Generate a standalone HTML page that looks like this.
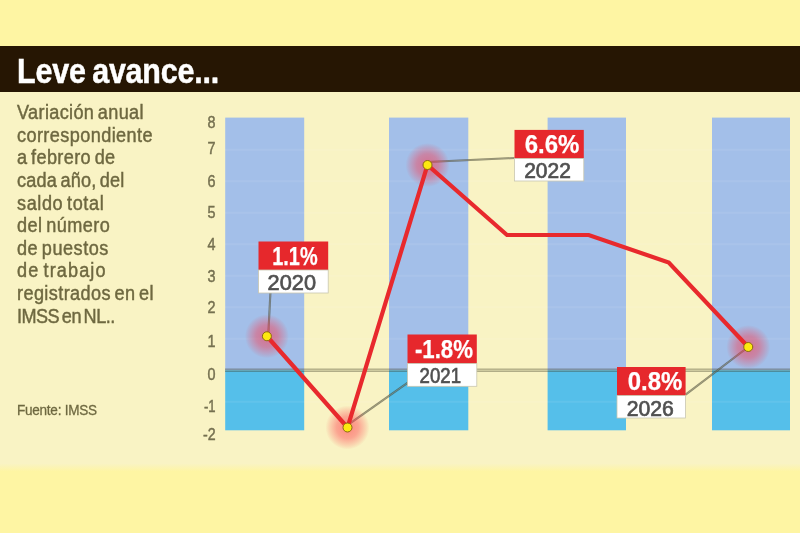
<!DOCTYPE html>
<html lang="es">
<head>
<meta charset="utf-8">
<title>Leve avance...</title>
<style>
html,body{margin:0;padding:0;}
body{width:800px;height:533px;overflow:hidden;background:#fef5a3;font-family:"Liberation Sans",sans-serif;position:relative;}
#wrap{position:absolute;left:-20px;top:-20px;width:840px;height:573px;overflow:hidden;background:#fef5a3;filter:blur(0.7px);}
#in{position:absolute;left:20px;top:20px;width:800px;height:533px;}
#bar{position:absolute;left:-20px;top:45.6px;width:840px;height:46px;background:#261603;}
#panel{position:absolute;left:-20px;top:91.5px;width:840px;height:380.5px;background:linear-gradient(to bottom,#f9f3c4 0,#f9f3c4 371.5px,#fef5a3 379.5px);}
#title{position:absolute;left:17.2px;top:50.5px;margin:0;font-size:34.2px;line-height:40px;font-weight:bold;color:#fff;white-space:nowrap;transform-origin:0 50%;transform:scaleX(0.89);letter-spacing:-0.2px;word-spacing:-2px;-webkit-text-stroke:0.5px #fff;}
#desc{position:absolute;left:17px;top:101px;margin:0;font-size:20px;line-height:22.62px;color:#6e6840;white-space:nowrap;letter-spacing:0.45px;word-spacing:-2px;-webkit-text-stroke:0.45px #6e6840;transform-origin:0 0;transform:scaleX(0.905);}
#desc .l1{letter-spacing:0.39px;}
#desc .l2{letter-spacing:0.45px;}
#desc .l3{letter-spacing:0.42px;}
#desc .l4{letter-spacing:0.21px;}
#desc .l5{letter-spacing:0.66px;}
#desc .l6{letter-spacing:0.49px;}
#desc .l7{letter-spacing:0.56px;}
#desc .l8{letter-spacing:1.20px;}
#desc .l9{letter-spacing:0.44px;}
#desc .l10{letter-spacing:-0.58px;}
#src{position:absolute;left:17px;top:400px;margin:0;font-size:15.5px;line-height:19px;color:#6e6840;white-space:nowrap;letter-spacing:-0.3px;transform-origin:0 50%;transform:scaleX(0.875);-webkit-text-stroke:0.3px #6e6840;}
svg{position:absolute;left:0;top:0;}
.ax{font-size:16.5px;fill:#757050;stroke:#757050;stroke-width:0.45px;font-family:"Liberation Sans",sans-serif;text-anchor:end;}
.pv{font-size:26px;font-weight:bold;fill:#fff;stroke:#fff;stroke-width:0.25px;font-family:"Liberation Sans",sans-serif;text-anchor:start;}
.yr{font-size:22.5px;fill:#505050;stroke:#505050;stroke-width:0.7px;font-family:"Liberation Sans",sans-serif;text-anchor:start;}
</style>
</head>
<body>
<div id="wrap"><div id="in">
<div id="bar"></div>
<div id="panel"></div>
<h1 id="title">Leve avance...</h1>
<p id="desc"><span class="l1">Variación anual</span><br><span class="l2">correspondiente</span><br><span class="l3">a febrero de</span><br><span class="l4">cada año, del</span><br><span class="l5">saldo total</span><br><span class="l6">del número</span><br><span class="l7">de puestos</span><br><span class="l8">de trabajo</span><br><span class="l9">registrados en el</span><br><span class="l10">IMSS en NL..</span></p>
<p id="src">Fuente: IMSS</p>
<svg width="800" height="533" viewBox="0 0 800 533">
<defs>
<radialGradient id="halo">
<stop offset="0" stop-color="#ff3044" stop-opacity="0.55"/>
<stop offset="0.5" stop-color="#ff3044" stop-opacity="0.4"/>
<stop offset="0.8" stop-color="#ff3044" stop-opacity="0.17"/>
<stop offset="1" stop-color="#ee2a30" stop-opacity="0"/>
</radialGradient>
</defs>
<!-- bars -->
<g>
<rect x="225.2" y="117.6" width="79" height="252.6" fill="#a3bfe9"/>
<rect x="389" y="117.6" width="79.3" height="252.6" fill="#a3bfe9"/>
<rect x="547.6" y="117.6" width="78.4" height="252.6" fill="#a3bfe9"/>
<rect x="712" y="117.6" width="78" height="252.6" fill="#a3bfe9"/>
<rect x="225.2" y="370.2" width="79" height="60.1" fill="#55bfea"/>
<rect x="389" y="370.2" width="79.3" height="60.1" fill="#55bfea"/>
<rect x="547.6" y="370.2" width="78.4" height="60.1" fill="#55bfea"/>
<rect x="712" y="370.2" width="78" height="60.1" fill="#55bfea"/>
</g>
<!-- gridlines -->
<g stroke="#ffffff" stroke-opacity="0.075" stroke-width="2">
<line x1="225" x2="790" y1="149.7" y2="149.7"/>
<line x1="225" x2="790" y1="181.2" y2="181.2"/>
<line x1="225" x2="790" y1="212.7" y2="212.7"/>
<line x1="225" x2="790" y1="244.2" y2="244.2"/>
<line x1="225" x2="790" y1="275.7" y2="275.7"/>
<line x1="225" x2="790" y1="307.2" y2="307.2"/>
<line x1="225" x2="790" y1="338.7" y2="338.7"/>
<line x1="225" x2="790" y1="401.7" y2="401.7"/>
</g>
<g stroke="#3f3d26">
<line x1="225" x2="790" y1="370.2" y2="370.2" stroke-opacity="0.16" stroke-width="3"/>
<line x1="225" x2="790" y1="369.1" y2="369.1" stroke-opacity="0.42" stroke-width="0.9"/>
<line x1="225" x2="790" y1="371.3" y2="371.3" stroke-opacity="0.42" stroke-width="0.9"/>
</g>
<!-- axis labels -->
<g class="ax">
<text x="215.6" y="127.5" textLength="8.0" lengthAdjust="spacingAndGlyphs">8</text>
<text x="215.6" y="153.5" textLength="8.0" lengthAdjust="spacingAndGlyphs">7</text>
<text x="215.6" y="186.5" textLength="8.0" lengthAdjust="spacingAndGlyphs">6</text>
<text x="215.6" y="218.0" textLength="8.0" lengthAdjust="spacingAndGlyphs">5</text>
<text x="215.6" y="249.5" textLength="8.0" lengthAdjust="spacingAndGlyphs">4</text>
<text x="215.6" y="281.5" textLength="8.0" lengthAdjust="spacingAndGlyphs">3</text>
<text x="215.6" y="313.0" textLength="8.0" lengthAdjust="spacingAndGlyphs">2</text>
<text x="215.6" y="347.0" textLength="8.0" lengthAdjust="spacingAndGlyphs">1</text>
<text x="215.6" y="379.5" textLength="8.0" lengthAdjust="spacingAndGlyphs">0</text>
<text x="215.6" y="411.5" textLength="11.6" lengthAdjust="spacingAndGlyphs">-1</text>
<text x="215.6" y="439.5" textLength="12.6" lengthAdjust="spacingAndGlyphs">-2</text>
</g>
<!-- leader lines -->
<g stroke="#3a3a28" stroke-opacity="0.58" stroke-width="2.1" fill="none">
<line x1="270.4" y1="293" x2="268.2" y2="336.25"/>
<line x1="407.5" y1="382.9" x2="347.5" y2="425.2"/>
<line x1="514.5" y1="158" x2="427.5" y2="162"/>
<line x1="685.6" y1="394.6" x2="748.25" y2="347"/>
</g>
<g stroke="#e9e6c8" stroke-opacity="0.4" stroke-width="0.6" fill="none">
<line x1="270.4" y1="293" x2="268.2" y2="336.25"/>
<line x1="407.5" y1="382.9" x2="347.5" y2="425.2"/>
<line x1="514.5" y1="158" x2="427.5" y2="162"/>
<line x1="685.6" y1="394.6" x2="748.25" y2="347"/>
</g>
<!-- halos -->
<circle cx="266.9" cy="336.25" r="22" fill="url(#halo)"/>
<circle cx="347.5" cy="427.5" r="22" fill="url(#halo)"/>
<circle cx="427.5" cy="165" r="22" fill="url(#halo)"/>
<circle cx="748.25" cy="347" r="22" fill="url(#halo)"/>
<!-- series line -->
<polyline points="266.9,336.25 347.5,427.5 427.5,165 507,235 588.75,235 668.75,262.5 748.25,347" fill="none" stroke="#e8292d" stroke-width="4.2" stroke-linejoin="miter" stroke-linecap="butt"/>
<!-- dots -->
<g fill="#fde910" stroke="#8a6a10" stroke-width="1">
<circle cx="266.9" cy="336.25" r="4.5"/>
<circle cx="347.5" cy="427.5" r="4.5"/>
<circle cx="427.5" cy="165" r="4.5"/>
<circle cx="748.25" cy="347" r="4.5"/>
</g>
<!-- labels -->
<g>
<rect x="258.5" y="241.5" width="69.7" height="28.6" fill="#e6282c"/>
<rect x="258.5" y="270" width="69.7" height="23" fill="#ffffff" stroke="#c9c6b0" stroke-width="0.8"/>
<text class="pv" x="272.2" y="264.5" textLength="45.4" lengthAdjust="spacingAndGlyphs">1.1%</text>
<text class="yr" x="267.6" y="290" textLength="48.4" lengthAdjust="spacingAndGlyphs">2020</text>
</g>
<g>
<rect x="407.5" y="334.5" width="69.3" height="29.1" fill="#e6282c"/>
<rect x="407.5" y="363.5" width="69.3" height="22.8" fill="#ffffff" stroke="#c9c6b0" stroke-width="0.8"/>
<text class="pv" x="414.9" y="357.6" textLength="58.1" lengthAdjust="spacingAndGlyphs">-1.8%</text>
<text class="yr" x="419.6" y="382.9" textLength="41.4" lengthAdjust="spacingAndGlyphs">2021</text>
</g>
<g>
<rect x="514.5" y="129.9" width="69.3" height="28.7" fill="#e6282c"/>
<rect x="514.5" y="158.5" width="69.3" height="22.5" fill="#ffffff" stroke="#c9c6b0" stroke-width="0.8"/>
<text class="pv" x="524.7" y="152.6" textLength="54.7" lengthAdjust="spacingAndGlyphs">6.6%</text>
<text class="yr" x="524.2" y="177.7" textLength="46.7" lengthAdjust="spacingAndGlyphs">2022</text>
</g>
<g>
<rect x="617" y="367" width="68.6" height="28.7" fill="#e6282c"/>
<rect x="617" y="395.6" width="68.6" height="22.4" fill="#ffffff" stroke="#c9c6b0" stroke-width="0.8"/>
<text class="pv" x="627.7" y="389.6" textLength="54.7" lengthAdjust="spacingAndGlyphs">0.8%</text>
<text class="yr" x="626.7" y="415.5" textLength="47.2" lengthAdjust="spacingAndGlyphs">2026</text>
</g>
</svg>
</div></div>
</body>
</html>
